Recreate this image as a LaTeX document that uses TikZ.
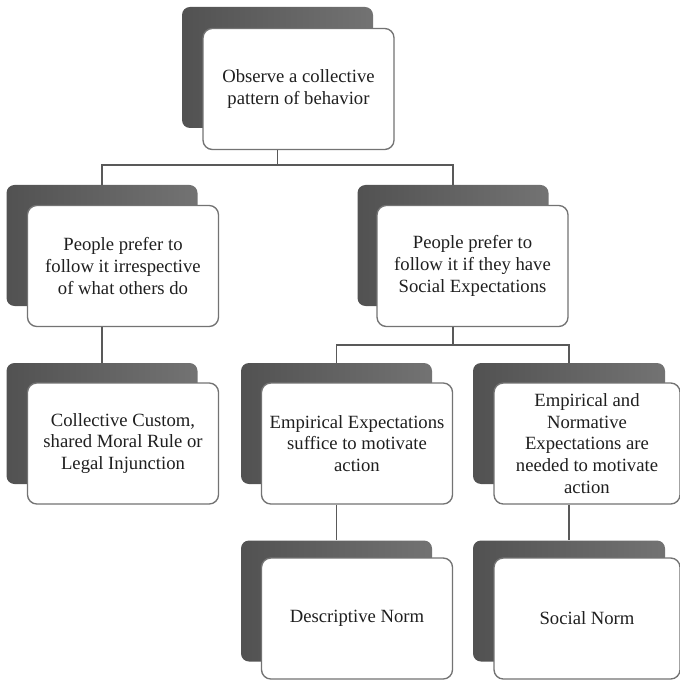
\documentclass[tikz,border=0pt]{standalone}
\usepackage{fontspec}
\setmainfont{Liberation Serif}
\begin{document}
\begin{tikzpicture}[
  x=0.75pt, y=-0.75pt,
  backbox/.style={rounded corners=6pt, left color=black!68, right color=black!55, minimum width=143.25pt, minimum height=90.75pt, inner sep=0pt},
  box/.style={draw=black!55, line width=1pt, fill=white, rounded corners=7pt, minimum width=143.25pt, minimum height=90.75pt, align=center, text=black!88, font=\fontsize{14}{16.3}\selectfont},
  link/.style={draw=black!65, line width=0.9pt}
]
  \useasboundingbox (0,0) rectangle (679,680);
  % shadows
  \node[backbox] (obsS) at (277.5,67.5) {};
  \node[backbox] (irrS) at (102,245.5) {};
  \node[backbox] (socS) at (453,245.5) {};
  \node[backbox] (cusS) at (102,423.5) {};
  \node[backbox] (empS) at (336.5,423.5) {};
  \node[backbox, minimum width=144pt] (nrmS) at (569,423.5) {};
  \node[backbox] (dscS) at (336.5,601) {};
  \node[backbox, minimum width=144pt] (snoS) at (569,601) {};
  % boxes
  \node[box] (obs) at (298.5,89) {Observe a collective\\pattern of behavior};
  \node[box] (irr) at (123,266) {People prefer to\\follow it irrespective\\of what others do};
  \node[box] (soc) at (472.5,266) {People prefer to\\follow it if they have\\Social Expectations};
  \node[box] (cus) at (123,443.5) {Collective Custom,\\shared Moral Rule or\\Legal Injunction};
  \node[box] (emp) at (357,443.5) {Empirical Expectations\\suffice to motivate\\action};
  \node[box, minimum width=139.5pt] (nrm) at (587,443.5) {Empirical and\\Normative\\Expectations are\\needed to motivate\\action};
  \node[box] (dsc) at (357,618.5) {Descriptive Norm};
  \node[box, minimum width=139.5pt] (sno) at (587,618.5) {Social Norm};
  % links
  \coordinate (j1) at (277.5,165);
  \coordinate (j2) at (453,345);
  \draw[link] (obs.south -| obsS) -- (j1);
  \draw[link] (irrS.north) |- (j1) -| (socS.north);
  \draw[link] (irr.south -| irrS) -- (cusS.north);
  \draw[link] (soc.south -| socS) -- (j2);
  \draw[link] (empS.north) |- (j2) -| (nrmS.north);
  \draw[link] (emp.south -| empS) -- (dscS.north);
  \draw[link] (nrm.south -| nrmS) -- (snoS.north);
\end{tikzpicture}
\end{document}
